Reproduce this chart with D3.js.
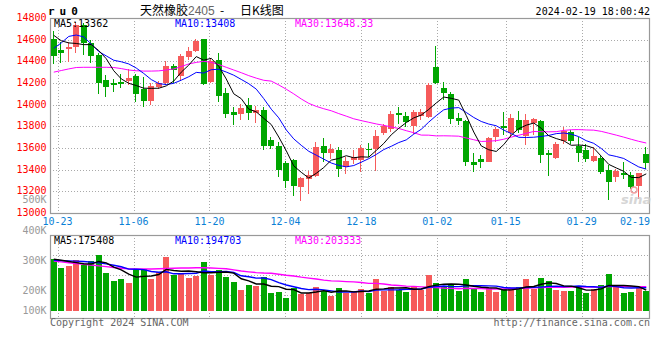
<!DOCTYPE html>
<html><head><meta charset="utf-8">
<script src="https://cdn.jsdelivr.net/npm/d3@7"></script>
<style>body{margin:0;background:#fff}svg{display:block}</style>
</head><body><svg id="c" width="660" height="360"></svg>
<script>
const dates = ["2023-10-20","2023-10-23","2023-10-24","2023-10-25","2023-10-26","2023-10-27","2023-10-30","2023-10-31",
"2023-11-01","2023-11-02","2023-11-03","2023-11-06","2023-11-07","2023-11-08","2023-11-09","2023-11-10","2023-11-13","2023-11-14","2023-11-15","2023-11-16","2023-11-17","2023-11-20","2023-11-21","2023-11-22","2023-11-23","2023-11-24","2023-11-27","2023-11-28","2023-11-29","2023-11-30",
"2023-12-01","2023-12-04","2023-12-05","2023-12-06","2023-12-07","2023-12-08","2023-12-11","2023-12-12","2023-12-13","2023-12-14","2023-12-15","2023-12-18","2023-12-19","2023-12-20","2023-12-21","2023-12-22","2023-12-25","2023-12-26","2023-12-27","2023-12-28","2023-12-29",
"2024-01-02","2024-01-03","2024-01-04","2024-01-05","2024-01-08","2024-01-09","2024-01-10","2024-01-11","2024-01-12","2024-01-15","2024-01-16","2024-01-17","2024-01-18","2024-01-19","2024-01-22","2024-01-23","2024-01-24","2024-01-25","2024-01-26","2024-01-29","2024-01-30","2024-01-31",
"2024-02-01","2024-02-02","2024-02-05","2024-02-06","2024-02-07","2024-02-08","2024-02-19"];

const open = [14607,14505,14518,14530,14736,14567,14459,14229,14204,14213,
14220,14266,14143,14038,14161,14198,14358,14266,14444,14499,
14603,14213,14413,14112,13934,13915,14001,13921,13952,13670,
13620,13464,13485,13236,13316,13344,13618,13556,13577,13420,
13485,13485,13593,13587,13740,13777,13925,13894,13802,13891,
13885,14345,14155,14100,13879,13848,13470,13494,13467,13700,
13804,13740,13860,13715,13835,13852,13556,13510,13663,13746,
13623,13577,13476,13510,13399,13332,13372,13347,13246,13547];
const high = [14680,14582,14576,14760,14750,14600,14480,14275,14238,14284,
14327,14280,14260,14204,14215,14404,14373,14470,14536,14610,
14610,14420,14481,14150,13977,14008,14063,13985,13975,13700,
13660,13480,13501,13330,13388,13652,13692,13633,13608,13516,
13584,13630,13645,13762,13823,13940,13977,13931,13952,13960,
14201,14545,14207,14115,13921,13854,13553,13531,13700,13790,
13930,13915,13940,13910,13880,13860,13577,13654,13792,13768,
13700,13639,13608,13530,13439,13410,13470,13380,13370,13608];
const low = [14373,14388,14398,14474,14459,14382,14097,14075,14115,14152,
14183,14023,13977,13998,14143,14189,14204,14229,14413,14484,
14183,14200,14029,13875,13808,13854,13860,13832,13584,13593,
13335,13227,13153,13107,13180,13332,13475,13500,13332,13362,
13455,13378,13516,13387,13720,13746,13823,13792,13731,13860,
13880,14190,14044,13823,13808,13433,13378,13415,13467,13654,
13720,13706,13737,13630,13716,13466,13338,13501,13640,13639,
13470,13470,13470,13362,13117,13286,13316,13220,13132,13408];
const close = [14450,14481,14536,14736,14567,14453,14204,14161,14180,14192,
14250,14100,14038,14173,14198,14358,14321,14450,14499,14591,
14192,14407,14081,13915,13906,13968,13925,13952,13620,13617,
13393,13292,13252,13324,13353,13611,13558,13593,13402,13480,
13516,13602,13577,13713,13802,13915,13903,13839,13931,13931,
14177,14201,14112,13872,13848,13467,13439,13470,13694,13771,
13783,13875,13768,13855,13872,13540,13532,13636,13754,13663,
13553,13501,13525,13378,13286,13390,13347,13240,13370,13460];
const volume = [433000,360000,377000,427000,385000,419000,469000,318000,251000,268000,
235000,349000,349000,268000,327000,452000,299000,321000,277000,293000,
411000,302000,344000,285000,243000,176000,218000,210000,285000,151000,
159000,109000,193000,142000,151000,201000,168000,126000,193000,155000,
159000,184000,148000,268000,168000,201000,176000,159000,210000,176000,
302000,235000,201000,218000,168000,268000,184000,159000,193000,159000,
182000,193000,201000,268000,182000,277000,251000,176000,168000,168000,
210000,151000,182000,218000,310000,210000,151000,159000,190000,168000];

// moving averages that need history before the first visible day
const ma5Head = [14640,14590,14570,14565];
const ma10Head = [14520,14570,14630,14643,14625,14560,14490,14450,14410];
const ma30Head = [14300,14315,14330,14343,14345,14345,14345,14345,14343,14333,
14320,14313,14310,14310,14312,14320,14330,14352,14376,14390,
14400,14391,14370,14345,14320,14295,14268,14245,14225];
const vma5Head = [435000,425000,415000,405000];
const vma10Head = [425000,422000,420000,418000,415000,410000,403000,395000,383000];
const vma30Head = [418000,412000,405000,398000,392000,385000,378000,372000,365000,358000,
354000,352000,352000,352000,354000,356000,358000,360000,360000,362000,
362000,360000,357000,354000,345000,335000,328000,322000,318000];

const priceTicks = [13000,13200,13400,13600,13800,14000,14200,14400,14600,14800];
const volTickValues = [500000,400000,300000,200000,100000];
const volTickLabels = ["500K","400K","300K","200K","100K"];
const dateTicks = ["10-23","11-06","11-20","12-04","12-18","01-02","01-15","01-29","02-19"];
const priceLegend = ["MA5:13362","MA10:13408","MA30:13648.33"];
const volLegend = ["MA5:175408","MA10:194703","MA30:203333"];
const symbol = "ru0";
const titleName = "天然橡胶", titleCode = "2405", titleKind = "日K线图";
const stamp = "2024-02-19 18:00:42";

const n = dates.length;
function ma(arr, k, head){ return arr.map((v,i)=> i < head.length ? head[i] : d3.mean(arr.slice(i-k+1,i+1))); }

const L=50, R=650, pTop=18, pBot=213, vTop=235, vBot=318, vBase=311;
const RED="#f65b5b", GREEN="#00a600", MONO="'DejaVu Sans Mono', monospace", FS=10;
const svg = d3.select("#c");
svg.append("rect").attr("width",660).attr("height",360).attr("fill","#fff");

const x = d3.scaleBand().domain(d3.range(n)).range([L,R]).paddingInner(0.2).paddingOuter(0.1);
const gx = d3.scalePoint().domain(d3.range(n)).range([L,R]);
const yP = d3.scaleLinear().domain([13000,14800]).range([pBot,pTop]);
const yV = d3.scaleLinear().domain([0,637000]).range([vBase,vTop]);
const yVLabel = d3.scaleLinear().domain([200000,500000]).range([294,203.3]);
const cx = i => x(i) + x.bandwidth()/2;

const tickIdx = dateTicks.map(t => dates.findIndex(d => d.slice(5) === t));

// grid
const grid = svg.append("g").attr("stroke","#aaa").attr("stroke-dasharray","1,2").attr("stroke-width",1);
priceTicks.filter(v=>v>13000 && v<14800).forEach(v=>{
  const yy = Math.round(yP(v))+0.5;
  grid.append("line").attr("x1",L).attr("x2",R).attr("y1",yy).attr("y2",yy);
});
[1,2,3].forEach(k=>{
  const yy = vTop + k*20 + 0.5;
  grid.append("line").attr("x1",L).attr("x2",R).attr("y1",yy).attr("y2",yy);
});
tickIdx.slice(0,-1).forEach(i=>{
  const xx = Math.round(gx(i))+0.5;
  grid.append("line").attr("x1",xx).attr("x2",xx).attr("y1",pTop).attr("y2",pBot);
  grid.append("line").attr("x1",xx).attr("x2",xx).attr("y1",vTop).attr("y2",vBot);
});

// frames
svg.append("rect").attr("x",L+0.5).attr("y",pTop+0.5).attr("width",R-L-1).attr("height",pBot-pTop)
  .attr("fill","none").attr("stroke","#999").attr("stroke-width",1.2);
svg.append("rect").attr("x",L+0.5).attr("y",vTop+0.5).attr("width",R-L-1).attr("height",vBot-vTop)
  .attr("fill","none").attr("stroke","#999").attr("stroke-width",1.2);

// candles and volume bars
const cg = svg.append("g");
d3.range(n).forEach(i=>{
  const up = close[i] >= open[i];
  const col = up ? RED : GREEN;
  const bx = Math.round(x(i));
  cg.append("rect").attr("x",bx+2).attr("width",1)
    .attr("y",Math.round(yP(high[i]))).attr("height",Math.max(1,Math.round(yP(low[i]))-Math.round(yP(high[i]))))
    .attr("fill",col);
  const t = Math.round(yP(Math.max(open[i],close[i]))), b = Math.round(yP(Math.min(open[i],close[i])));
  cg.append("rect").attr("x",bx).attr("width",Math.round(x.bandwidth()))
    .attr("y",t).attr("height",Math.max(1,b-t)).attr("fill",col);
  const vt = Math.round(yV(volume[i]));
  cg.append("rect").attr("x",bx).attr("width",Math.round(x.bandwidth()))
    .attr("y",vt).attr("height",vBase-vt).attr("fill",col);
});

// MA lines
svg.append("clipPath").attr("id","pc").append("rect").attr("x",L+1).attr("y",pTop+1).attr("width",R-L-2).attr("height",pBot-pTop-1);
const lp = d3.line().x((d,i)=>cx(i)).y(d=>yP(d));
const lv = d3.line().x((d,i)=>cx(i)).y(d=>yV(d));
[[ma(close,30,ma30Head),"#ff00ff"],[ma(close,10,ma10Head),"#0000ff"],[ma(close,5,ma5Head),"#000"]].forEach(([s,c])=>{
  svg.append("path").attr("d",lp(s)).attr("fill","none").attr("stroke",c).attr("stroke-width",1).attr("clip-path","url(#pc)");
});
[[ma(volume,30,vma30Head),"#ff00ff"],[ma(volume,10,vma10Head),"#0000ff"],[ma(volume,5,vma5Head),"#000"]].forEach(([s,c])=>{
  svg.append("path").attr("d",lv(s)).attr("fill","none").attr("stroke",c).attr("stroke-width",1.4);
});

// legends
const legCols = ["#000","#0000ff","#ff00ff"], legX = [54,175,295];
priceLegend.forEach((t,k)=>svg.append("text").attr("x",legX[k]).attr("y",27).attr("fill",legCols[k])
  .attr("font-family",MONO).attr("font-size",FS).text(t));
volLegend.forEach((t,k)=>svg.append("text").attr("x",legX[k]).attr("y",243.5).attr("fill",legCols[k])
  .attr("font-family",MONO).attr("font-size",FS).text(t));

// axis labels
priceTicks.forEach(v=>svg.append("text").attr("x",46.5).attr("y",yP(v)+3).attr("text-anchor","end")
  .attr("fill","#f00").attr("font-family",MONO).attr("font-size",FS).text(d3.format("d")(v)));
volTickValues.forEach((v,k)=>svg.append("text").attr("x",46.5).attr("y",Math.min(314,yVLabel(v))).attr("text-anchor","end")
  .attr("fill","#999").attr("font-family",MONO).attr("font-size",FS).text(volTickLabels[k]));
dateTicks.forEach((t,k)=>{
  const last = k === dateTicks.length-1;
  svg.append("text").attr("x", last ? R : gx(tickIdx[k])).attr("y",224.5)
    .attr("text-anchor", last ? "end" : "middle").attr("fill","#0a7fd6")
    .attr("font-family",MONO).attr("font-size",FS).text(t);
});

// header
svg.append("text").attr("x",48).attr("y",15).attr("font-family",MONO).attr("font-weight","bold")
  .attr("font-size",11).attr("letter-spacing",5).attr("fill","#000").text(symbol);
const tt = svg.append("text").attr("y",14.5).attr("font-size",12).attr("fill","#000").attr("font-family","'Noto Sans CJK SC', sans-serif");
tt.append("tspan").attr("x",140).text(titleName);
tt.append("tspan").attr("x",188).attr("fill","#666").attr("font-family","'Liberation Sans', sans-serif").text(titleCode);
tt.append("tspan").attr("x",220).text("-");
tt.append("tspan").attr("x",240).text(titleKind);
svg.append("text").attr("x",R).attr("y",15).attr("text-anchor","end").attr("font-family",MONO)
  .attr("font-size",FS).attr("fill","#000").text(stamp);

// footer
svg.append("text").attr("x",L).attr("y",325.5).attr("font-family",MONO).attr("font-size",FS).attr("fill","#666").text("Copyright 2024 SINA.COM");
svg.append("text").attr("x",R).attr("y",325.5).attr("text-anchor","end").attr("font-family",MONO).attr("font-size",FS).attr("fill","#666").text("http://finance.sina.com.cn");

// watermark
svg.append("text").attr("x",621).attr("y",204).attr("font-family","'DejaVu Sans', sans-serif").attr("font-weight","bold")
  .attr("font-style","italic").attr("font-size",13).attr("fill","#ccc").attr("opacity",0.8).text("sina");
svg.append("circle").attr("cx",634).attr("cy",190).attr("r",3).attr("fill","none").attr("stroke","#f0a0a0").attr("stroke-width",1.5);
</script></body></html>
